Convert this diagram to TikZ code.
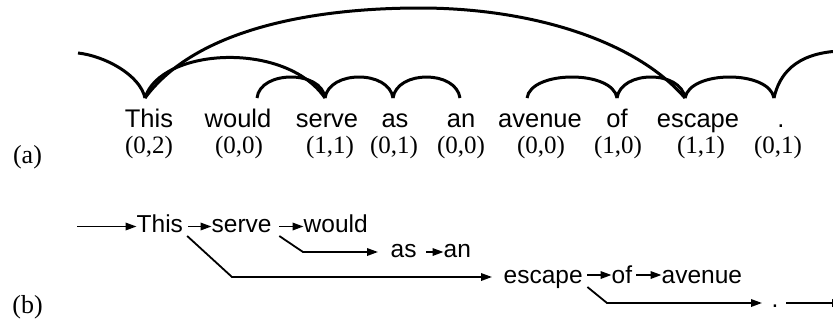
\documentclass[tikz,border=0pt]{standalone}
\usepackage{fontspec}
\setmainfont{Liberation Serif}
\newfontfamily\arialf{Liberation Sans}
\usetikzlibrary{arrows.meta,calc}
\begin{document}
\begin{tikzpicture}[x=1pt,y=-1pt,
  arcline/.style={line width=3pt},
  wd/.style={font=\arialf\fontsize{25.5}{30}\selectfont, inner sep=0pt, anchor=base},
  lb/.style={font=\fontsize{25}{30}\selectfont, inner sep=0pt, anchor=base},
  tag/.style={font=\fontsize{26}{30}\selectfont, inner sep=0pt, anchor=base},
  bw/.style={font=\arialf\fontsize{24.5}{30}\selectfont, inner sep=0pt, anchor=base west},
  arr/.style={line width=1.8pt, -{Triangle[length=11pt,width=7.5pt]}}]
\useasboundingbox (0,0) rectangle (833,322);
% ---------------- (a)
\node[tag] (ta) at (27.5,163) {(a)};
\node[wd] (a1) at (149,127) {This};
\node[wd] (a2) at (238,127) {would};
\node[wd] (a3) at (327,127) {serve};
\node[wd] (a4) at (395,127) {as};
\node[wd] (a5) at (461,127) {an};
\node[wd] (a6) at (540,127) {avenue};
\node[wd] (a7) at (617,127) {of};
\node[wd] (a8) at (698,127) {escape};
\node[wd] (a9) at (781,127) {.};
\node[lb] (l1) at (149,153) {(0,2)};
\node[lb] (l2) at (239,153) {(0,0)};
\node[lb] (l3) at (330,153) {(1,1)};
\node[lb] (l4) at (394,153) {(0,1)};
\node[lb] (l5) at (461,153) {(0,0)};
\node[lb] (l6) at (541,153) {(0,0)};
\node[lb] (l7) at (618,153) {(1,0)};
\node[lb] (l8) at (701,153) {(1,1)};
\node[lb] (l9) at (778,153) {(0,1)};
\coordinate (pL) at (78,53);
\coordinate (pThis) at (145,98);
\coordinate (pWould) at (257,98);
\coordinate (pServe) at (325,98);
\coordinate (pAs) at (393,98);
\coordinate (pAn) at (460,98);
\coordinate (pAvenue) at (527,98);
\coordinate (pOf) at (617,98);
\coordinate (pEscape) at (685,98);
\coordinate (pDot) at (774,98);
\coordinate (pR) at (840,51);
\coordinate (pTop) at (420,8);
\draw[arcline] (pL) .. controls (105,56) and (140,75) .. (pThis);
\draw[arcline] (pThis) .. controls (160,48) and (285,40) .. (pServe);
\draw[arcline] (pThis) .. controls (195,30) and (310,8) .. (pTop)
                .. controls (530,8) and (635,40) .. (pEscape);
\draw[arcline] (pWould) .. controls (260,70) and (322,70) .. (pServe);
\draw[arcline] (pServe) .. controls (329,70) and (389,70) .. (pAs);
\draw[arcline] (pAs) .. controls (397,70) and (456,70) .. (pAn);
\draw[arcline] (pAvenue) .. controls (531,70) and (613,70) .. (pOf);
\draw[arcline] (pOf) .. controls (621,70) and (681,70) .. (pEscape);
\draw[arcline] (pEscape) .. controls (690,70) and (769,70) .. (pDot);
\draw[arcline] (pDot) .. controls (779,75) and (795,53) .. (pR);
% ---------------- (b)
\node[tag] (tb) at (27.5,313) {(b)};
\node[bw] (b1) at (136.5,232) {This};
\node[bw] (b2) at (211.5,232) {serve};
\node[bw] (b3) at (303.5,232) {would};
\node[bw] (b4) at (390.5,257.5) {as};
\node[bw] (b5) at (443.5,257.5) {an};
\node[bw] (b6) at (503.5,283) {escape};
\node[bw] (b7) at (611.5,283) {of};
\node[bw] (b8) at (661.5,283) {avenue};
\node[bw] (b9) at (771.5,307) {.};
\coordinate (sIn) at (77,226.5);
\coordinate (sOut) at (843,303);
\coordinate (c1) at (232,277);
\coordinate (c2) at (303,252);
\coordinate (c3) at (607,303);
\draw[arr] (sIn) -- ([yshift=5.5pt]b1.base west);
\draw[arr] ([xshift=5pt,yshift=5.5pt]b1.base east) -- ([yshift=5.5pt]b2.base west);
\draw[arr] ([xshift=7.5pt,yshift=5.5pt]b2.base east) -- ([yshift=5.5pt]b3.base west);
\draw[arr] ([xshift=7.5pt,yshift=-4pt]b2.base east) -- (c2) -- ([xshift=-12.5pt,yshift=5.5pt]b4.base west);
\draw[arr] ([xshift=9.5pt,yshift=5.5pt]b4.base east) -- ([yshift=5.5pt]b5.base west);
\draw[arr] ([xshift=4pt,yshift=-4pt]b1.base east) -- (c1) -- ([xshift=-11.5pt,yshift=6pt]b6.base west);
\draw[arr] ([xshift=4.5pt,yshift=8pt]b6.base east) -- ([yshift=8pt]b7.base west);
\draw[arr] ([xshift=4pt,yshift=8pt]b7.base east) -- ([yshift=8pt]b8.base west);
\draw[arr] ([xshift=4.5pt,yshift=-4pt]b6.base east) -- (c3) -- ([xshift=-9.5pt,yshift=4pt]b9.base west);
\draw[arr] ([xshift=7.5pt,yshift=4pt]b9.base east) -- (sOut);
\end{tikzpicture}
\end{document}
